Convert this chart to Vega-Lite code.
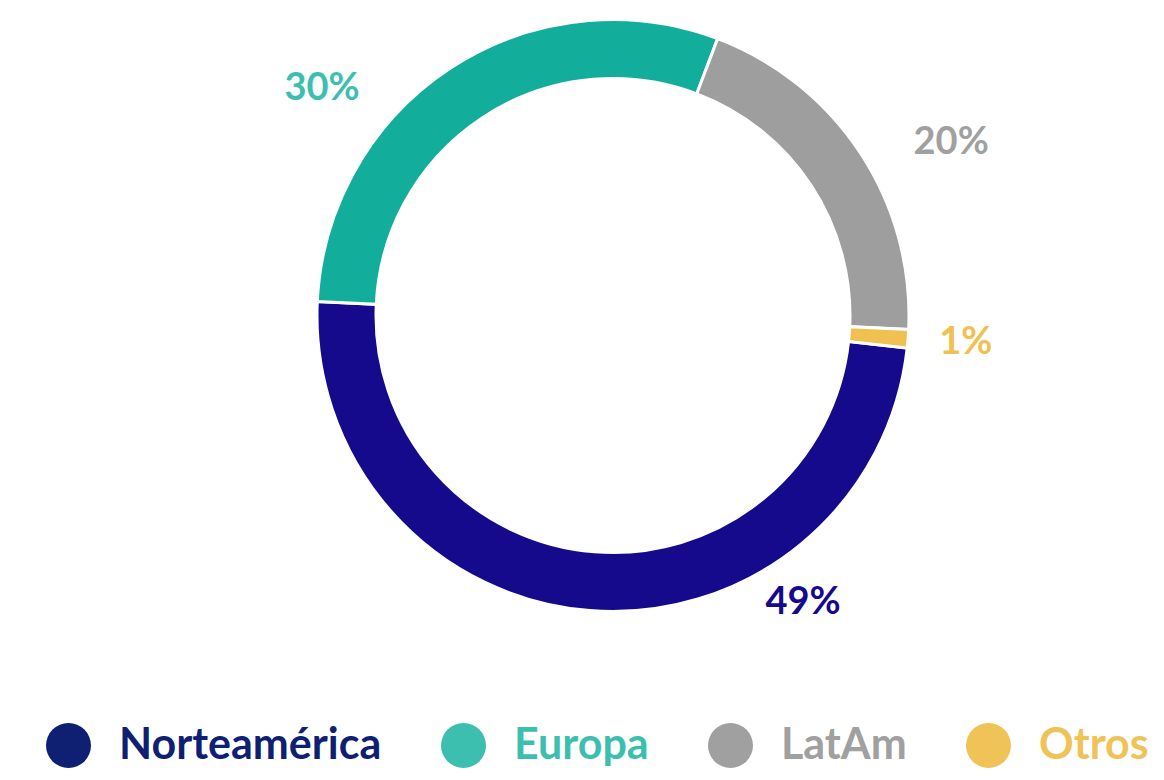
{
  "$schema": "https://vega.github.io/schema/vega-lite/v6.json",
  "autosize": {"type": "none"},
  "width": 592,
  "height": 592,
  "padding": {"left": 317, "top": 19.5, "right": 255, "bottom": 168.5},
  "background": "white",
  "config": {"view": {"stroke": null}},
  "data": {
    "values": [
      {"region": "Norteamérica", "pct": 49},
      {"region": "Europa", "pct": 30},
      {"region": "LatAm", "pct": 20},
      {"region": "Otros", "pct": 1}
    ]
  },
  "transform": [
    {"calculate": "indexof(['Norteamérica','Europa','LatAm','Otros'], datum.region)", "as": "orden"},
    {"stack": "pct", "groupby": [], "sort": [{"field": "orden", "order": "ascending"}], "as": ["ini", "fin"]},
    {"calculate": "(datum.ini + datum.fin) / 2", "as": "mid"},
    {"calculate": "datum.pct + '%'", "as": "label"}
  ],
  "resolve": {"scale": {"color": "independent"}},
  "layer": [
    {
      "mark": {"type": "arc", "outerRadius": 296, "innerRadius": 237, "stroke": "white", "strokeWidth": 3},
      "encoding": {
        "theta": {"field": "ini", "type": "quantitative", "stack": null, "scale": {"domain": [0, 100], "range": [1.6808, 7.964]}},
        "theta2": {"field": "fin"},
        "color": {
          "field": "region",
          "type": "nominal",
          "scale": {"domain": ["Norteamérica", "Europa", "LatAm", "Otros"], "range": ["#150a8c", "#13ae9b", "#9e9e9e", "#f0c050"]},
          "legend": null
        }
      }
    },
    {
      "mark": {"type": "text", "text": ""},
      "encoding": {
        "color": {
          "field": "region",
          "type": "nominal",
          "scale": {"domain": ["Norteamérica", "Europa", "LatAm", "Otros"], "range": ["#0f1f72", "#3dbfb0", "#a0a0a0", "#f0c358"]},
          "legend": {
            "title": null,
            "orient": "none",
            "direction": "horizontal",
            "legendX": -271,
            "legendY": 703.5,
            "padding": 0,
            "symbolType": "circle",
            "symbolSize": 2025,
            "symbolStrokeWidth": 0,
            "symbolOpacity": 1,
            "labelFont": "Lato",
            "labelFontWeight": "bold",
            "labelFontSize": 43,
            "labelOffset": 28,
            "columnPadding": 59,
            "labelLimit": 400,
            "labelColor": {"expr": "datum.value === 'Norteamérica' ? '#0f1f72' : datum.value === 'Europa' ? '#3dbfb0' : datum.value === 'LatAm' ? '#a0a0a0' : '#f0c358'"}
          }
        }
      }
    },
    {
      "transform": [{"filter": "datum.region === 'Norteamérica'"}],
      "mark": {"type": "text", "radius": 344.6, "thetaOffset": -0.663, "font": "Lato", "fontWeight": "bold", "fontSize": 38, "color": "#150a8c", "align": "center", "baseline": "middle"},
      "encoding": {
        "theta": {"field": "mid", "type": "quantitative", "stack": null},
        "text": {"field": "label"}
      }
    },
    {
      "transform": [{"filter": "datum.region === 'Europa'"}],
      "mark": {"type": "text", "radius": 368.8, "thetaOffset": -0.328, "font": "Lato", "fontWeight": "bold", "fontSize": 38, "color": "#3dbfb0", "align": "center", "baseline": "middle"},
      "encoding": {
        "theta": {"field": "mid", "type": "quantitative", "stack": null},
        "text": {"field": "label"}
      }
    },
    {
      "transform": [{"filter": "datum.region === 'LatAm'"}],
      "mark": {"type": "text", "radius": 379.5, "thetaOffset": 0.11, "font": "Lato", "fontWeight": "bold", "fontSize": 38, "color": "#a0a0a0", "align": "center", "baseline": "middle"},
      "encoding": {
        "theta": {"field": "mid", "type": "quantitative", "stack": null},
        "text": {"field": "label"}
      }
    },
    {
      "transform": [{"filter": "datum.region === 'Otros'"}],
      "mark": {"type": "text", "radius": 354, "thetaOffset": 0, "font": "Lato", "fontWeight": "bold", "fontSize": 38, "color": "#f0c050", "align": "center", "baseline": "middle"},
      "encoding": {
        "theta": {"field": "mid", "type": "quantitative", "stack": null},
        "text": {"field": "label"}
      }
    }
  ]
}
